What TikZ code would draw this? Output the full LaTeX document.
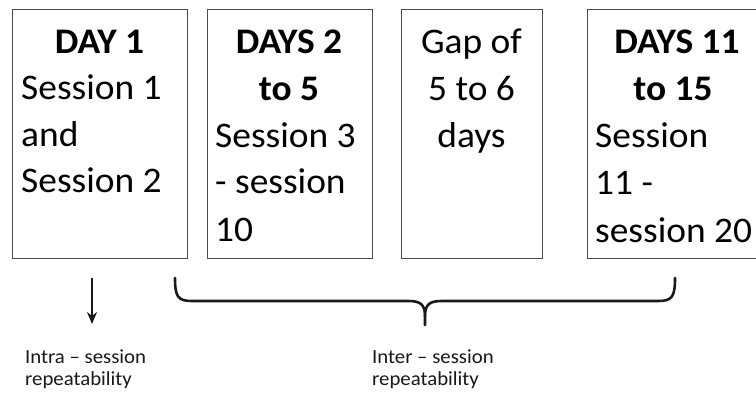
\documentclass[tikz,border=0pt]{standalone}
\usepackage{fontspec}
\setmainfont{Carlito}[FakeStretch=1.04]
\usetikzlibrary{arrows.meta}
\begin{document}
\begin{tikzpicture}[x=1pt,y=-1pt,
  box/.style={draw=black!70, line width=1pt, inner sep=0pt, anchor=north west},
  head/.style={font=\fontsize{36}{42}\selectfont\bfseries, inner sep=0pt, anchor=base, text=black},
  body/.style={font=\fontsize{36}{42}\selectfont, inner sep=0pt, anchor=base west, text=black},
  bodyc/.style={font=\fontsize{36}{42}\selectfont, inner sep=0pt, anchor=base, text=black},
  lab/.style={font=\fontsize{20}{24}\selectfont, inner sep=0pt, anchor=base west, text=black!90},
  brace/.style={draw=black!90, line width=2.6pt, line cap=round, line join=round},
  arr/.style={draw=black!90, line width=2.6pt, -{Stealth[length=12pt,width=10pt]}}]
\useasboundingbox (0,0) rectangle (756,394);
\clip (0,0) rectangle (756,394);
\fill[white] (0,0) rectangle (756,394);

% boxes
\node[box, minimum width=175pt, minimum height=249pt] (b1) at (12,9) {};
\node[box, minimum width=165pt, minimum height=249pt] (b2) at (207,9) {};
\node[box, minimum width=141pt, minimum height=249pt] (b3) at (401,9) {};
\node[box, minimum width=183pt, minimum height=249pt] (b4) at (587,9) {};

% box 1
\node[head] (b1h) at (99.5,53) {DAY 1};
\node[body] (b1l1) at (21,99) {Session 1};
\node[body] (b1l2) at (21,146) {and};
\node[body] (b1l3) at (21,192) {Session 2};

% box 2
\node[head] (b2h1) at (289,53) {DAYS 2};
\node[head] (b2h2) at (289,100) {to 5};
\node[body] (b2l1) at (215,147) {Session 3};
\node[body] (b2l2) at (215,193) {- session};
\node[body] (b2l3) at (215,241) {10};

% box 3
\node[bodyc] (b3l1) at (471.5,53) {Gap of};
\node[bodyc] (b3l2) at (471.5,100) {5 to 6};
\node[bodyc] (b3l3) at (471.5,147) {days};

% box 4
\node[head] (b4h1) at (677,53) {DAYS 11};
\node[head] (b4h2) at (673,100) {to 15};
\node[body] (b4l1) at (595,147) {Session};
\node[body] (b4l2) at (595,194) {11 -};
\node[body] (b4l3) at (595,242) {session 20};

% arrow
\coordinate (atop) at (92,278);
\coordinate (abot) at (92,324);
\draw[arr] (atop) -- (abot);

% brace
\coordinate (bl) at (175,278);
\coordinate (br) at (675,278);
\coordinate (bt) at (425,325);
\draw[brace] (bl) .. controls (175,297) and (178,301) .. (192,301)
  -- (408,301) .. controls (420,301) and (425,304) .. (425,316) -- (bt);
\draw[brace] (br) .. controls (675,297) and (672,301) .. (658,301)
  -- (442,301) .. controls (430,301) and (425,304) .. (425,316);

% labels
\node[lab] (intra1) at (25,363) {Intra – session};
\node[lab] (intra2) at (25,385) {repeatability};
\node[lab] (inter1) at (372,363) {Inter – session};
\node[lab] (inter2) at (372,385) {repeatability};
\end{tikzpicture}
\end{document}
